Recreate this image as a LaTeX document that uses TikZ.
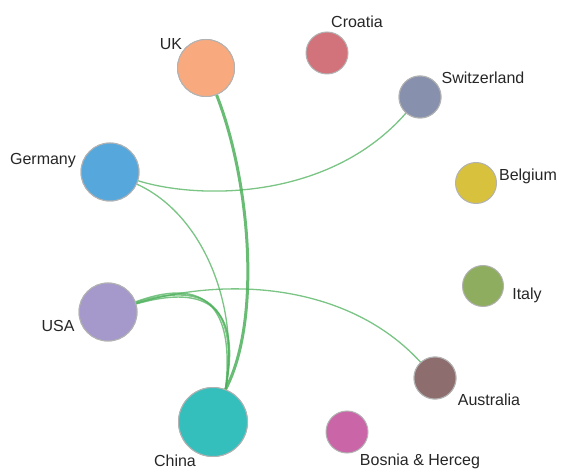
\documentclass[tikz,border=0pt]{standalone}
\usepackage{fontspec}
\setmainfont{Liberation Sans}
\begin{document}
\begin{tikzpicture}[x=1pt,y=-1pt,
  country/.style={circle,draw=black!30,line width=1pt,inner sep=0pt},
  lbl/.style={font=\fontsize{16}{18}\selectfont,text=black!85,inner sep=0pt}]
\useasboundingbox (0,0) rectangle (565,470);
\definecolor{cUK}{HTML}{F8AA7E}
\definecolor{cCro}{HTML}{D2737C}
\definecolor{cSwi}{HTML}{8791AE}
\definecolor{cGer}{HTML}{56A8DC}
\definecolor{cBel}{HTML}{D8C13C}
\definecolor{cIta}{HTML}{8FAD5E}
\definecolor{cUSA}{HTML}{A598CA}
\definecolor{cAus}{HTML}{8D6D6E}
\definecolor{cChi}{HTML}{35BFBC}
\definecolor{cBos}{HTML}{CA66A8}
\definecolor{edge}{HTML}{4DB05B}
\tikzset{link/.style={draw=edge,opacity=0.75,line width=1.3pt},
  thick link/.style={draw=edge,opacity=0.85,line width=3pt}}
\node[country,fill=cUK,minimum size=57pt] (uk) at (206,68) {};
\node[country,fill=cCro,minimum size=42pt] (cro) at (327,53) {};
\node[country,fill=cSwi,minimum size=42pt] (swi) at (420,97) {};
\node[country,fill=cGer,minimum size=58pt] (ger) at (110,172) {};
\node[country,fill=cBel,minimum size=41pt] (bel) at (476,183) {};
\node[country,fill=cIta,minimum size=41pt] (ita) at (483,286) {};
\node[country,fill=cUSA,minimum size=58pt] (usa) at (108,312) {};
\node[country,fill=cAus,minimum size=42pt] (aus) at (435,378) {};
\node[country,fill=cChi,minimum size=69pt] (chi) at (213,422) {};
\node[country,fill=cBos,minimum size=42pt] (bos) at (347,432) {};
\path[thick link] (uk) .. controls (250,180) and (262,320) .. (chi.69);
\path[link] (swi) .. controls (330,200) and (200,200) .. (ger);
\path[link] (ger) .. controls (205,215) and (240,310) .. (chi.69);
\path[link,line width=1.8pt] (usa) .. controls (190,285) and (242,290) .. (chi.69);
\path[link,line width=1.4pt] (usa) .. controls (195,280) and (236,295) .. (chi.69);
\path[link,line width=1.4pt] (usa) .. controls (185,290) and (246,288) .. (chi.69);
\path[link] (usa) .. controls (230,275) and (350,285) .. (aus);
% redraw connected nodes on top of the links
\node[country,fill=cUK,minimum size=57pt] at (uk) {};
\node[country,fill=cSwi,minimum size=42pt] at (swi) {};
\node[country,fill=cGer,minimum size=58pt] at (ger) {};
\node[country,fill=cUSA,minimum size=58pt] at (usa) {};
\node[country,fill=cAus,minimum size=42pt] at (aus) {};
\node[country,fill=cChi,minimum size=69pt] at (chi) {};
% labels
\node[lbl] (luk) at (171,44) {UK};
\node[lbl] (lcro) at (357,22) {Croatia};
\node[lbl] (lswi) at (483,78) {Switzerland};
\node[lbl] (lger) at (43,161) {Germany};
\node[lbl] (lbel) at (528,176) {Belgium};
\node[lbl] (lita) at (527,295) {Italy};
\node[lbl] (lusa) at (58,326) {USA};
\node[lbl] (laus) at (489,400) {Australia};
\node[lbl] (lchi) at (175,461) {China};
\node[lbl] (lbos) at (420,461) {Bosnia \& Herceg};
\end{tikzpicture}
\end{document}
